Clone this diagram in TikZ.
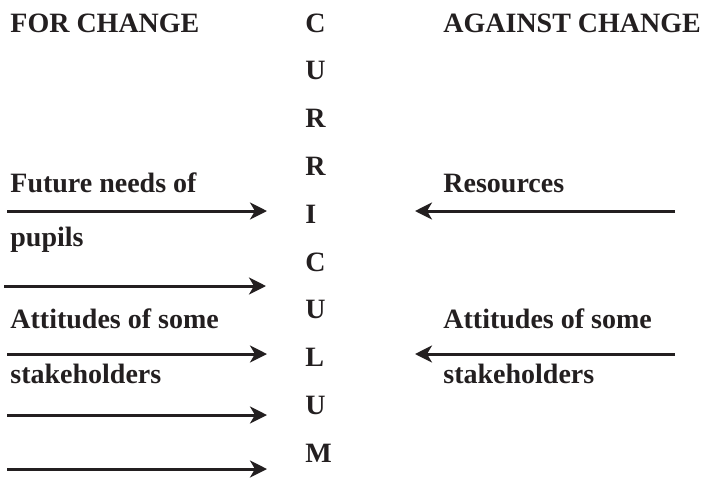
\documentclass[tikz,border=0pt]{standalone}
\usepackage{fontspec}
\setmainfont{Liberation Serif}
\usetikzlibrary{arrows.meta}
\definecolor{ink}{HTML}{231F20}

\tikzset{
  lbl/.style={anchor=base west,inner sep=0pt,text=ink,font=\fontsize{14}{16}\selectfont\bfseries},
  force/.style={draw=ink,line width=1.5pt,-{Stealth[length=8.5pt,width=8.5pt,inset=2.5pt]}}
}

\begin{document}
\begin{tikzpicture}[x=0.5pt,y=-0.5pt]
  \useasboundingbox (0,0) rectangle (705,477);
  % headings
  \node[lbl] (for) at (10,32) {FOR CHANGE};
  \node[lbl] (against) at (443,32) {AGAINST CHANGE};
  % the word down the middle
  \foreach \l [count=\i from 0] in {C,U,R,R,I,C,U,L,U,M}
    \node[lbl] (c\i) at (305,{32+47.8*\i}) {\l};
  % labels
  \node[lbl] (needs) at (10,192) {Future needs of};
  \node[lbl] (pupils) at (10,246) {pupils};
  \node[lbl] (attl) at (10,328) {Attitudes of some};
  \node[lbl] (stkl) at (10,383) {stakeholders};
  \node[lbl] (res) at (443,192) {Resources};
  \node[lbl] (attr) at (443,328) {Attitudes of some};
  \node[lbl] (stkr) at (443,383) {stakeholders};
  % arrow ends
  \path
    (7,211) coordinate (l1) (267,211) coordinate (l1t)
    (4,286) coordinate (l2) (266,286) coordinate (l2t)
    (7,354) coordinate (l3) (267,354) coordinate (l3t)
    (7,415) coordinate (l4) (267,415) coordinate (l4t)
    (7,469) coordinate (l5) (267,469) coordinate (l5t)
    (675,211) coordinate (r1) (415,211) coordinate (r1t)
    (675,354) coordinate (r2) (415,354) coordinate (r2t);
  \begin{scope}[force]
    \draw (l1) to (l1t);
    \draw (l2) to (l2t);
    \draw (l3) to (l3t);
    \draw (l4) to (l4t);
    \draw (l5) to (l5t);
    \draw (r1) to (r1t);
    \draw (r2) to (r2t);
  \end{scope}
\end{tikzpicture}
\end{document}
